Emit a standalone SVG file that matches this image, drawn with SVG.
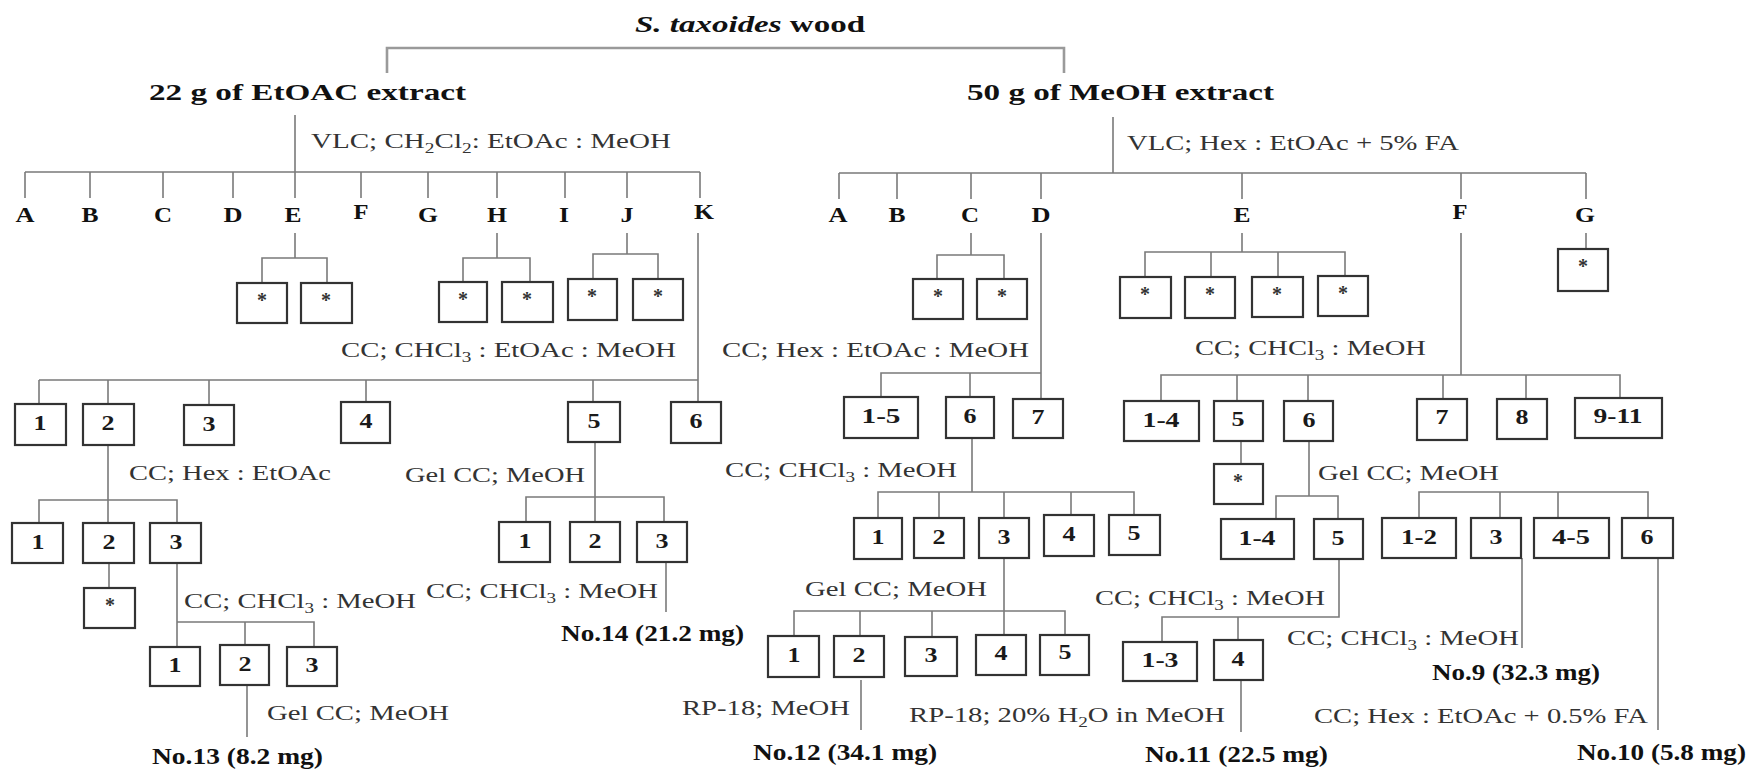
<svg xmlns="http://www.w3.org/2000/svg" width="1751" height="772" viewBox="0 0 1751 772">
<style>
.c{fill:none;stroke:#7a7a7a;stroke-width:1.6}
.top{fill:none;stroke:#9a9a9a;stroke-width:2.6}
.b{fill:#fff;stroke:#333;stroke-width:2.2}
.t{font-family:"Liberation Serif","Times New Roman",serif;font-weight:bold;font-size:22px;fill:#1a1a1a;text-anchor:middle}
.s{font-family:"Liberation Serif","Times New Roman",serif;font-weight:bold;font-size:20px;fill:#333;text-anchor:middle}
.L{font-family:"Liberation Serif","Times New Roman",serif;font-weight:bold;font-size:22px;fill:#111;text-anchor:middle}
.h{font-family:"Liberation Serif","Times New Roman",serif;font-weight:bold;font-size:24px;fill:#111}
.r{font-family:"Liberation Serif","Times New Roman",serif;font-weight:bold;font-size:23px;fill:#111}
.k{font-family:"Liberation Serif","Times New Roman",serif;font-size:21px;fill:#333}
.sub{font-size:14px}
</style>
<rect width="1751" height="772" fill="#fff"/>
<g id="connectors">
<path class="top" d="M387,73V48H1064V73"/>
<path class="c" d="M295,115V172M25,172H700M25,172V198M90,172V198M163,172V198M233,172V198M295,172V198M361,172V198M428,172V198M497,172V198M565,172V198M627,172V198M700,172V198"/>
<path class="c" d="M1113,117V173M839,173H1586M839,173V199M897,173V199M971,173V199M1041,173V199M1242,173V199M1461,173V199M1586,173V199"/>
<path class="c" d="M295,233V258M262,283V258H327V283"/>
<path class="c" d="M497,233V258M463,282V258H530V282"/>
<path class="c" d="M627,233V254M593,279V254H658V279"/>
<path class="c" d="M698,233V402M39,380H698M39,380V404M108,380V404M209,380V405M366,380V402M593,380V402"/>
<path class="c" d="M108,445V523M39,523V500H177V523"/>
<path class="c" d="M109,563V588"/>
<path class="c" d="M177,563V647M177,622H314V647M245,622V645"/>
<path class="c" d="M247,685V737"/>
<path class="c" d="M595,442V522M526,522V497H664V522"/>
<path class="c" d="M666,562V612"/>
<path class="c" d="M971,233V255M937,279V255H1004V279"/>
<path class="c" d="M1242,233V252M1145,277V252H1345V276M1211,252V277M1278,252V277"/>
<path class="c" d="M1586,233V249"/>
<path class="c" d="M1041,233V399M881,397V373H1041M970,373V397"/>
<path class="c" d="M972,438V492M878,518V492H1134V515M939,492V518M1004,492V518M1071,492V515"/>
<path class="c" d="M1004,558V635M794,636V611H1065V635M860,611V636M932,611V637"/>
<path class="c" d="M861,680V730"/>
<path class="c" d="M1461,233V375M1161,401V375H1620V398M1237,375V401M1308,375V401M1443,375V399M1526,375V399"/>
<path class="c" d="M1241,441V464"/>
<path class="c" d="M1309,441V496M1276,519V496H1338V519"/>
<path class="c" d="M1339,559V617H1162V642M1238,617V640"/>
<path class="c" d="M1241,680V732"/>
<path class="c" d="M1419,518V492H1648V518M1500,492V518M1558,492V518"/>
<path class="c" d="M1522,558V648"/>
<path class="c" d="M1658,558V730"/>
</g>
<g id="title"><text class="h" x="635" y="32" textLength="230" lengthAdjust="spacingAndGlyphs"><tspan font-style="italic">S. taxoides</tspan> wood</text></g>
<g id="etoac"><text class="h" x="149" y="100" textLength="317" lengthAdjust="spacingAndGlyphs">22 g of EtOAC extract</text></g>
<g id="meoh"><text class="h" x="967" y="100" textLength="307" lengthAdjust="spacingAndGlyphs">50 g of MeOH extract</text></g>
<g id="labels">
<text class="k" x="311" y="148" textLength="360" lengthAdjust="spacingAndGlyphs">VLC; CH<tspan class="sub" dy="5">2</tspan><tspan dy="-5">Cl</tspan><tspan class="sub" dy="5">2</tspan><tspan dy="-5">: EtOAc : MeOH</tspan></text>
<text class="k" x="1127" y="150" textLength="332" lengthAdjust="spacingAndGlyphs">VLC; Hex : EtOAc + 5% FA</text>
<text class="k" x="341" y="357" textLength="335" lengthAdjust="spacingAndGlyphs">CC; CHCl<tspan class="sub" dy="5">3</tspan><tspan dy="-5"> : EtOAc : MeOH</tspan></text>
<text class="k" x="722" y="357" textLength="307" lengthAdjust="spacingAndGlyphs">CC; Hex : EtOAc : MeOH</text>
<text class="k" x="1195" y="355" textLength="231" lengthAdjust="spacingAndGlyphs">CC; CHCl<tspan class="sub" dy="5">3</tspan><tspan dy="-5"> : MeOH</tspan></text>
<text class="k" x="129" y="480" textLength="202" lengthAdjust="spacingAndGlyphs">CC; Hex : EtOAc</text>
<text class="k" x="405" y="482" textLength="180" lengthAdjust="spacingAndGlyphs">Gel CC; MeOH</text>
<text class="k" x="725" y="477" textLength="232" lengthAdjust="spacingAndGlyphs">CC; CHCl<tspan class="sub" dy="5">3</tspan><tspan dy="-5"> : MeOH</tspan></text>
<text class="k" x="1318" y="480" textLength="181" lengthAdjust="spacingAndGlyphs">Gel CC; MeOH</text>
<text class="k" x="184" y="608" textLength="232" lengthAdjust="spacingAndGlyphs">CC; CHCl<tspan class="sub" dy="5">3</tspan><tspan dy="-5"> : MeOH</tspan></text>
<text class="k" x="426" y="598" textLength="232" lengthAdjust="spacingAndGlyphs">CC; CHCl<tspan class="sub" dy="5">3</tspan><tspan dy="-5"> : MeOH</tspan></text>
<text class="k" x="805" y="596" textLength="182" lengthAdjust="spacingAndGlyphs">Gel CC; MeOH</text>
<text class="k" x="1095" y="605" textLength="230" lengthAdjust="spacingAndGlyphs">CC; CHCl<tspan class="sub" dy="5">3</tspan><tspan dy="-5"> : MeOH</tspan></text>
<text class="k" x="1287" y="645" textLength="232" lengthAdjust="spacingAndGlyphs">CC; CHCl<tspan class="sub" dy="5">3</tspan><tspan dy="-5"> : MeOH</tspan></text>
<text class="k" x="267" y="720" textLength="182" lengthAdjust="spacingAndGlyphs">Gel CC; MeOH</text>
<text class="k" x="682" y="715" textLength="168" lengthAdjust="spacingAndGlyphs">RP-18; MeOH</text>
<text class="k" x="909" y="722" textLength="316" lengthAdjust="spacingAndGlyphs">RP-18; 20% H<tspan class="sub" dy="5">2</tspan><tspan dy="-5">O in MeOH</tspan></text>
<text class="k" x="1314" y="723" textLength="334" lengthAdjust="spacingAndGlyphs">CC; Hex : EtOAc + 0.5% FA</text>
</g>
<g id="results">
<text class="r" x="152" y="764" textLength="171" lengthAdjust="spacingAndGlyphs">No.13 (8.2 mg)</text>
<text class="r" x="561" y="641" textLength="183" lengthAdjust="spacingAndGlyphs">No.14 (21.2 mg)</text>
<text class="r" x="753" y="760" textLength="184" lengthAdjust="spacingAndGlyphs">No.12 (34.1 mg)</text>
<text class="r" x="1145" y="762" textLength="183" lengthAdjust="spacingAndGlyphs">No.11 (22.5 mg)</text>
<text class="r" x="1432" y="680" textLength="168" lengthAdjust="spacingAndGlyphs">No.9 (32.3 mg)</text>
<text class="r" x="1577" y="760" textLength="169" lengthAdjust="spacingAndGlyphs">No.10 (5.8 mg)</text>
</g>
<g id="fractions-left">
<text class="L" x="25" y="222" textLength="19" lengthAdjust="spacingAndGlyphs">A</text>
<text class="L" x="90" y="222" textLength="17" lengthAdjust="spacingAndGlyphs">B</text>
<text class="L" x="163" y="222" textLength="18" lengthAdjust="spacingAndGlyphs">C</text>
<text class="L" x="233" y="222" textLength="19" lengthAdjust="spacingAndGlyphs">D</text>
<text class="L" x="293" y="222" textLength="17" lengthAdjust="spacingAndGlyphs">E</text>
<text class="L" x="361" y="219" textLength="15" lengthAdjust="spacingAndGlyphs">F</text>
<text class="L" x="428" y="222" textLength="20" lengthAdjust="spacingAndGlyphs">G</text>
<text class="L" x="497" y="222" textLength="20" lengthAdjust="spacingAndGlyphs">H</text>
<text class="L" x="564" y="222" textLength="10" lengthAdjust="spacingAndGlyphs">I</text>
<text class="L" x="627" y="222" textLength="13" lengthAdjust="spacingAndGlyphs">J</text>
<text class="L" x="704" y="219" textLength="20" lengthAdjust="spacingAndGlyphs">K</text>
</g>
<g id="fractions-right">
<text class="L" x="838" y="222" textLength="19" lengthAdjust="spacingAndGlyphs">A</text>
<text class="L" x="897" y="222" textLength="17" lengthAdjust="spacingAndGlyphs">B</text>
<text class="L" x="970" y="222" textLength="18" lengthAdjust="spacingAndGlyphs">C</text>
<text class="L" x="1041" y="222" textLength="19" lengthAdjust="spacingAndGlyphs">D</text>
<text class="L" x="1242" y="222" textLength="17" lengthAdjust="spacingAndGlyphs">E</text>
<text class="L" x="1460" y="219" textLength="15" lengthAdjust="spacingAndGlyphs">F</text>
<text class="L" x="1585" y="222" textLength="20" lengthAdjust="spacingAndGlyphs">G</text>
</g>
<g id="nL-E1"><rect class="b" x="237" y="283" width="50" height="40"/><text class="s" x="262" y="307">*</text></g>
<g id="nL-E2"><rect class="b" x="301" y="283" width="51" height="40"/><text class="s" x="326" y="307">*</text></g>
<g id="nL-H1"><rect class="b" x="439" y="282" width="48" height="40"/><text class="s" x="463" y="306">*</text></g>
<g id="nL-H2"><rect class="b" x="502" y="282" width="51" height="40"/><text class="s" x="527" y="306">*</text></g>
<g id="nL-J1"><rect class="b" x="568" y="279" width="49" height="41"/><text class="s" x="592" y="303">*</text></g>
<g id="nL-J2"><rect class="b" x="633" y="279" width="50" height="41"/><text class="s" x="658" y="303">*</text></g>
<g id="nL-K1"><rect class="b" x="15" y="404" width="51" height="41"/><text class="t" x="40" y="430" textLength="13" lengthAdjust="spacingAndGlyphs">1</text></g>
<g id="nL-K2"><rect class="b" x="83" y="404" width="51" height="41"/><text class="t" x="108" y="430" textLength="13" lengthAdjust="spacingAndGlyphs">2</text></g>
<g id="nL-K3"><rect class="b" x="184" y="405" width="50" height="40"/><text class="t" x="209" y="431" textLength="13" lengthAdjust="spacingAndGlyphs">3</text></g>
<g id="nL-K4"><rect class="b" x="341" y="402" width="49" height="41"/><text class="t" x="366" y="428" textLength="13" lengthAdjust="spacingAndGlyphs">4</text></g>
<g id="nL-K5"><rect class="b" x="568" y="402" width="52" height="40"/><text class="t" x="594" y="428" textLength="13" lengthAdjust="spacingAndGlyphs">5</text></g>
<g id="nL-K6"><rect class="b" x="671" y="402" width="50" height="41"/><text class="t" x="696" y="428" textLength="13" lengthAdjust="spacingAndGlyphs">6</text></g>
<g id="nL-K2-1"><rect class="b" x="12" y="523" width="51" height="40"/><text class="t" x="38" y="549" textLength="13" lengthAdjust="spacingAndGlyphs">1</text></g>
<g id="nL-K2-2"><rect class="b" x="83" y="523" width="51" height="40"/><text class="t" x="109" y="549" textLength="13" lengthAdjust="spacingAndGlyphs">2</text></g>
<g id="nL-K2-3"><rect class="b" x="150" y="523" width="51" height="40"/><text class="t" x="176" y="549" textLength="13" lengthAdjust="spacingAndGlyphs">3</text></g>
<g id="nL-K2-2s"><rect class="b" x="84" y="588" width="51" height="40"/><text class="s" x="110" y="612">*</text></g>
<g id="nL-K2-3-1"><rect class="b" x="150" y="647" width="50" height="39"/><text class="t" x="175" y="672" textLength="13" lengthAdjust="spacingAndGlyphs">1</text></g>
<g id="nL-K2-3-2"><rect class="b" x="220" y="645" width="49" height="40"/><text class="t" x="245" y="671" textLength="13" lengthAdjust="spacingAndGlyphs">2</text></g>
<g id="nL-K2-3-3"><rect class="b" x="287" y="647" width="50" height="39"/><text class="t" x="312" y="672" textLength="13" lengthAdjust="spacingAndGlyphs">3</text></g>
<g id="nL-K5-1"><rect class="b" x="499" y="522" width="51" height="40"/><text class="t" x="525" y="548" textLength="13" lengthAdjust="spacingAndGlyphs">1</text></g>
<g id="nL-K5-2"><rect class="b" x="570" y="522" width="50" height="40"/><text class="t" x="595" y="548" textLength="13" lengthAdjust="spacingAndGlyphs">2</text></g>
<g id="nL-K5-3"><rect class="b" x="637" y="522" width="50" height="40"/><text class="t" x="662" y="548" textLength="13" lengthAdjust="spacingAndGlyphs">3</text></g>
<g id="nR-C1"><rect class="b" x="913" y="279" width="50" height="40"/><text class="s" x="938" y="303">*</text></g>
<g id="nR-C2"><rect class="b" x="977" y="279" width="50" height="40"/><text class="s" x="1002" y="303">*</text></g>
<g id="nR-E1"><rect class="b" x="1120" y="277" width="51" height="41"/><text class="s" x="1145" y="301">*</text></g>
<g id="nR-E2"><rect class="b" x="1185" y="277" width="50" height="41"/><text class="s" x="1210" y="301">*</text></g>
<g id="nR-E3"><rect class="b" x="1252" y="277" width="51" height="40"/><text class="s" x="1277" y="301">*</text></g>
<g id="nR-E4"><rect class="b" x="1318" y="276" width="50" height="40"/><text class="s" x="1343" y="300">*</text></g>
<g id="nR-G1"><rect class="b" x="1558" y="249" width="50" height="42"/><text class="s" x="1583" y="273">*</text></g>
<g id="nR-D1"><rect class="b" x="844" y="397" width="74" height="41"/><text class="t" x="881" y="423" textLength="39" lengthAdjust="spacingAndGlyphs">1-5</text></g>
<g id="nR-D6"><rect class="b" x="946" y="397" width="48" height="41"/><text class="t" x="970" y="423" textLength="13" lengthAdjust="spacingAndGlyphs">6</text></g>
<g id="nR-D7"><rect class="b" x="1013" y="399" width="50" height="39"/><text class="t" x="1038" y="424" textLength="13" lengthAdjust="spacingAndGlyphs">7</text></g>
<g id="nR-D6-1"><rect class="b" x="854" y="518" width="48" height="41"/><text class="t" x="878" y="544" textLength="13" lengthAdjust="spacingAndGlyphs">1</text></g>
<g id="nR-D6-2"><rect class="b" x="914" y="518" width="50" height="40"/><text class="t" x="939" y="544" textLength="13" lengthAdjust="spacingAndGlyphs">2</text></g>
<g id="nR-D6-3"><rect class="b" x="979" y="518" width="50" height="40"/><text class="t" x="1004" y="544" textLength="13" lengthAdjust="spacingAndGlyphs">3</text></g>
<g id="nR-D6-4"><rect class="b" x="1044" y="515" width="50" height="41"/><text class="t" x="1069" y="541" textLength="13" lengthAdjust="spacingAndGlyphs">4</text></g>
<g id="nR-D6-5"><rect class="b" x="1109" y="515" width="51" height="40"/><text class="t" x="1134" y="540" textLength="13" lengthAdjust="spacingAndGlyphs">5</text></g>
<g id="nR-D6-3-1"><rect class="b" x="768" y="636" width="51" height="41"/><text class="t" x="794" y="662" textLength="13" lengthAdjust="spacingAndGlyphs">1</text></g>
<g id="nR-D6-3-2"><rect class="b" x="834" y="636" width="50" height="41"/><text class="t" x="859" y="662" textLength="13" lengthAdjust="spacingAndGlyphs">2</text></g>
<g id="nR-D6-3-3"><rect class="b" x="905" y="637" width="52" height="39"/><text class="t" x="931" y="662" textLength="13" lengthAdjust="spacingAndGlyphs">3</text></g>
<g id="nR-D6-3-4"><rect class="b" x="976" y="635" width="50" height="40"/><text class="t" x="1001" y="660" textLength="13" lengthAdjust="spacingAndGlyphs">4</text></g>
<g id="nR-D6-3-5"><rect class="b" x="1040" y="635" width="49" height="40"/><text class="t" x="1065" y="659" textLength="13" lengthAdjust="spacingAndGlyphs">5</text></g>
<g id="nR-F1"><rect class="b" x="1124" y="401" width="75" height="40"/><text class="t" x="1161" y="427" textLength="37" lengthAdjust="spacingAndGlyphs">1-4</text></g>
<g id="nR-F5"><rect class="b" x="1214" y="401" width="49" height="40"/><text class="t" x="1238" y="426" textLength="13" lengthAdjust="spacingAndGlyphs">5</text></g>
<g id="nR-F6"><rect class="b" x="1284" y="401" width="49" height="40"/><text class="t" x="1309" y="427" textLength="13" lengthAdjust="spacingAndGlyphs">6</text></g>
<g id="nR-F7"><rect class="b" x="1417" y="399" width="50" height="41"/><text class="t" x="1442" y="424" textLength="13" lengthAdjust="spacingAndGlyphs">7</text></g>
<g id="nR-F8"><rect class="b" x="1497" y="399" width="50" height="40"/><text class="t" x="1522" y="424" textLength="13" lengthAdjust="spacingAndGlyphs">8</text></g>
<g id="nR-F9"><rect class="b" x="1575" y="398" width="87" height="40"/><text class="t" x="1618" y="423" textLength="49" lengthAdjust="spacingAndGlyphs">9-11</text></g>
<g id="nR-F5s"><rect class="b" x="1214" y="464" width="49" height="40"/><text class="s" x="1238" y="488">*</text></g>
<g id="nR-F6-1"><rect class="b" x="1221" y="519" width="73" height="40"/><text class="t" x="1257" y="545" textLength="37" lengthAdjust="spacingAndGlyphs">1-4</text></g>
<g id="nR-F6-5"><rect class="b" x="1314" y="519" width="49" height="40"/><text class="t" x="1338" y="545" textLength="13" lengthAdjust="spacingAndGlyphs">5</text></g>
<g id="nR-F6-5-1"><rect class="b" x="1123" y="642" width="74" height="39"/><text class="t" x="1160" y="667" textLength="37" lengthAdjust="spacingAndGlyphs">1-3</text></g>
<g id="nR-F6-5-4"><rect class="b" x="1214" y="640" width="49" height="40"/><text class="t" x="1238" y="666" textLength="13" lengthAdjust="spacingAndGlyphs">4</text></g>
<g id="nR-X1"><rect class="b" x="1382" y="518" width="74" height="40"/><text class="t" x="1419" y="544" textLength="36" lengthAdjust="spacingAndGlyphs">1-2</text></g>
<g id="nR-X3"><rect class="b" x="1471" y="518" width="50" height="40"/><text class="t" x="1496" y="544" textLength="13" lengthAdjust="spacingAndGlyphs">3</text></g>
<g id="nR-X4"><rect class="b" x="1534" y="518" width="75" height="40"/><text class="t" x="1571" y="544" textLength="38" lengthAdjust="spacingAndGlyphs">4-5</text></g>
<g id="nR-X6"><rect class="b" x="1622" y="518" width="51" height="40"/><text class="t" x="1647" y="544" textLength="13" lengthAdjust="spacingAndGlyphs">6</text></g>
</svg>
